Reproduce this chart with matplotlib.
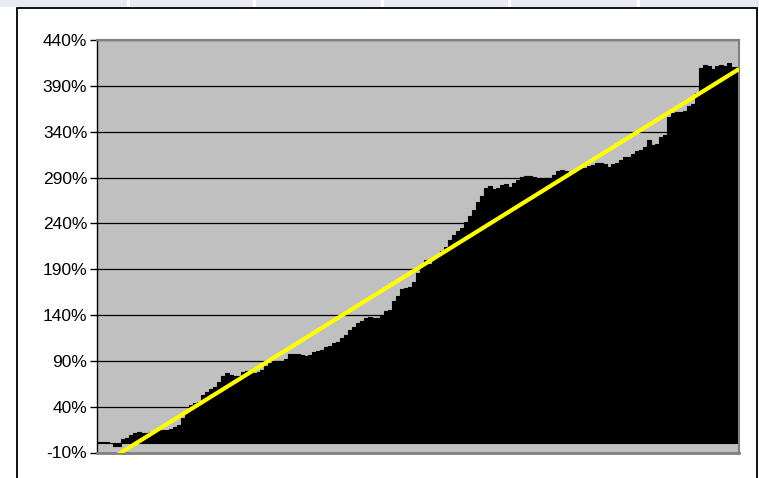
import numpy as np
import matplotlib
matplotlib.use("Agg")
from matplotlib import pyplot as plt
from matplotlib.patches import Rectangle
from matplotlib.ticker import FuncFormatter, MultipleLocator

# cumulative return per period (%)
returns = [
    1, 1, 1, 0.5, -2.5, -2.5, 5, 6, 9, 11,
    12.5, 11.5, 11.5, 12, 14, 14.5, 15, 15, 15.5, 18,
    20, 28, 36, 42, 44, 45, 53, 56, 59, 61,
    67, 73, 77, 75, 73, 73, 78, 79, 79, 77,
    78, 80, 84, 88, 89, 90, 89, 92, 98, 97,
    97, 96, 95, 96, 100, 101, 102, 105, 106, 109,
    111, 115, 118, 124, 127, 131, 134, 137, 138, 137,
    137, 139, 144, 146, 155, 161, 168, 169, 171, 176,
    186, 193, 200, 196, 202, 205, 210, 214, 222, 227,
    232, 235, 242, 248, 255, 263, 270, 279, 281, 278,
    279, 282, 283, 280, 284, 287, 291, 292, 292, 291,
    289, 289, 290, 290, 293, 297, 298, 297, 294, 296,
    300, 300, 301, 303, 304, 306, 306, 305, 302, 305,
    306, 309, 312, 313, 316, 319, 320, 323, 331, 326,
    327, 334, 336, 356, 360, 362, 362, 363, 368, 370,
    382, 410, 413, 412, 409, 412, 413, 412, 415, 411,
    411,
]
y_ticks = [-10, 40, 90, 140, 190, 240, 290, 340, 390, 440]

W, H = 759, 478
fig = plt.figure(figsize=(W / 100, H / 100), dpi=100)
fig.patch.set_facecolor("white")

# spreadsheet strip along the top and the chart frame
fig.patches.append(Rectangle((0, 1 - 7 / H), 1, 7 / H, transform=fig.transFigure,
                             facecolor="#E6EBF4", edgecolor="none"))
for sx in [127, 253, 381, 508, 637]:
    fig.patches.append(Rectangle((sx / W, 1 - 7 / H), 3 / W, 7 / H, transform=fig.transFigure,
                                 facecolor="white", edgecolor="none"))
fig.patches.append(Rectangle((17 / W, -0.02), (757 - 17) / W, 1.02 - 8 / H,
                             transform=fig.transFigure, fill=False,
                             edgecolor="black", lw=1.3))

ax = fig.add_axes([97 / W, 1 - 452.5 / H, (739 - 97) / W, (452.5 - 40.2) / H])
ax.set_facecolor("#C0C0C0")

x = np.arange(len(returns))
ax.bar(x, returns, width=1.0, color="black", edgecolor="black", linewidth=0.8, zorder=2)

# linear trend line
coef = np.polyfit(x, returns, 1)
xt = np.array([-0.5, len(returns) - 0.5])
ax.plot(xt, np.polyval(coef, xt), color="#FFFF00", lw=3, zorder=3, solid_capstyle="butt")

ax.set_xlim(-0.5, len(returns) - 0.5)
ax.set_ylim(y_ticks[0], y_ticks[-1])
ax.yaxis.set_major_locator(MultipleLocator(50))
ax.set_yticks(y_ticks)
ax.yaxis.set_major_formatter(FuncFormatter(lambda v, _: f"{v:.0f}%"))
ax.set_xticks([])
ax.yaxis.grid(True, color="black", lw=0.9)
ax.set_axisbelow(True)

ax.tick_params(axis="y", length=5, width=1, direction="out", pad=2,
               labelsize=12.5, labelcolor="black")
for lab in ax.get_yticklabels():
    lab.set_fontfamily("Liberation Sans")

ax.spines["left"].set_color("black")
ax.spines["left"].set_linewidth(1.0)
ax.spines["bottom"].set_color("#808080")
ax.spines["bottom"].set_linewidth(2)
for s in ["top", "right"]:
    ax.spines[s].set_color("#808080")
    ax.spines[s].set_linewidth(1.5)

fig.savefig("out.png", dpi=100)
